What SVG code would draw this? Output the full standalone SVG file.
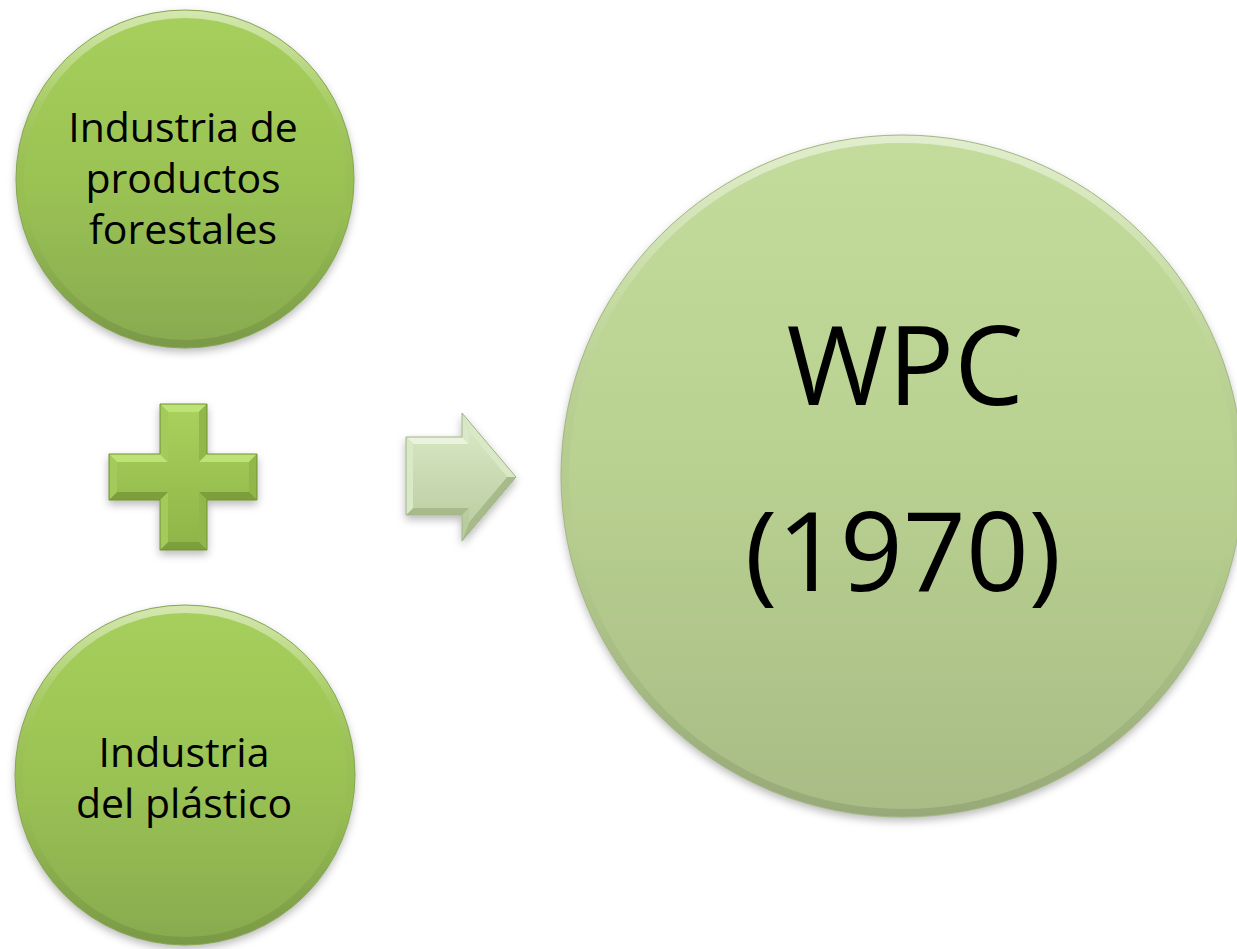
<svg xmlns="http://www.w3.org/2000/svg" width="1237" height="949" viewBox="0 0 1237 949">
<defs>
  <linearGradient id="gSmall" x1="0" y1="0" x2="0" y2="1">
    <stop offset="0" stop-color="#a7cf5d"/>
    <stop offset="0.5" stop-color="#9bc353"/>
    <stop offset="1" stop-color="#88aa50"/>
  </linearGradient>
  <linearGradient id="gBig" x1="0" y1="0" x2="0" y2="1">
    <stop offset="0" stop-color="#c3dc9b"/>
    <stop offset="0.5" stop-color="#b8d090"/>
    <stop offset="1" stop-color="#a8bc85"/>
  </linearGradient>
  <linearGradient id="gRim" x1="0" y1="0" x2="0" y2="1">
    <stop offset="0" stop-color="#ffffff" stop-opacity="0.5"/>
    <stop offset="0.25" stop-color="#ffffff" stop-opacity="0.1"/>
    <stop offset="0.6" stop-color="#000000" stop-opacity="0"/>
    <stop offset="1" stop-color="#000000" stop-opacity="0.1"/>
  </linearGradient>
  <linearGradient id="gPlus" x1="0" y1="0" x2="0" y2="1">
    <stop offset="0" stop-color="#a8d05c"/>
    <stop offset="1" stop-color="#8fb648"/>
  </linearGradient>
  <linearGradient id="gArrow" x1="0" y1="0" x2="0" y2="1">
    <stop offset="0" stop-color="#d6e6c2"/>
    <stop offset="1" stop-color="#bdcfa4"/>
  </linearGradient>
  <filter id="shadow" x="-20%" y="-20%" width="140%" height="145%">
    <feDropShadow dx="0" dy="4" stdDeviation="4" flood-color="#000" flood-opacity="0.28"/>
  </filter>
</defs>
<style>
  .lbl { font-family: "Open Sans", "Liberation Sans", sans-serif; fill: #000; text-anchor: middle; }
  .small { font-size: 41px; }
  .big { font-size: 110px; }
  .rim { fill: none; stroke: url(#gRim); stroke-width: 8; }
  .edge { fill: none; stroke-width: 1; }
  .pu { fill: #bde274; }
  .pl { fill: #a3ca5a; }
  .pr { fill: #8fb748; }
  .pd { fill: #7c9f3a; }
  .au { fill: #eaf3dd; }
  .al { fill: #d9e8c6; }
  .ar { fill: #b9cc9e; }
  .ad { fill: #a7bb8a; }
</style>

<g id="node-forestales">
  <circle cx="185" cy="179" r="169" fill="url(#gSmall)" filter="url(#shadow)"/>
  <circle class="rim" cx="185" cy="179" r="165"/>
  <circle class="edge" cx="185" cy="179" r="169" stroke="#86a652"/>
  <text class="lbl small" x="183" y="142">Industria de</text>
  <text class="lbl small" x="183" y="193">productos</text>
  <text class="lbl small" x="183" y="244">forestales</text>
</g>

<g id="node-plastico">
  <circle cx="185" cy="775" r="170" fill="url(#gSmall)" filter="url(#shadow)"/>
  <circle class="rim" cx="185" cy="775" r="166"/>
  <circle class="edge" cx="185" cy="775" r="170" stroke="#86a652"/>
  <text class="lbl small" x="184" y="767">Industria</text>
  <text class="lbl small" x="184" y="818">del plástico</text>
</g>

<g id="node-wpc">
  <circle cx="902" cy="476" r="341" fill="url(#gBig)" filter="url(#shadow)"/>
  <circle class="rim" cx="902" cy="476" r="337"/>
  <circle class="edge" cx="902" cy="476" r="341" stroke="#a3b682"/>
  <text class="lbl big" x="905" y="405">WPC</text>
  <text class="lbl big" x="903" y="591">(1970)</text>
</g>

<g id="node-plus" filter="url(#shadow)">
  <polygon points="160,404 207,404 207,454 257,454 257,500 207,500 207,550 160,550 160,500 109,500 109,454 160,454" fill="#8fb748"/>
  <polygon class="pu" points="160,404 207,404 199,412 168,412"/>
  <polygon class="pr" points="207,404 207,454 199,462 199,412"/>
  <polygon class="pu" points="207,454 257,454 249,462 199,462"/>
  <polygon class="pr" points="257,454 257,500 249,492 249,462"/>
  <polygon class="pd" points="257,500 207,500 199,492 249,492"/>
  <polygon class="pr" points="207,500 207,550 199,542 199,492"/>
  <polygon class="pd" points="207,550 160,550 168,542 199,542"/>
  <polygon class="pl" points="160,550 160,500 168,492 168,542"/>
  <polygon class="pd" points="160,500 109,500 117,492 168,492"/>
  <polygon class="pl" points="109,500 109,454 117,462 117,492"/>
  <polygon class="pu" points="109,454 160,454 168,462 117,462"/>
  <polygon class="pl" points="160,454 160,404 168,412 168,462"/>
  <polygon points="168,412 199,412 199,462 249,462 249,492 199,492 199,542 168,542 168,492 117,492 117,462 168,462" fill="url(#gPlus)"/>
  <polygon points="160,404 207,404 207,454 257,454 257,500 207,500 207,550 160,550 160,500 109,500 109,454 160,454" fill="none" stroke="#6e8f35" stroke-width="1"/>
</g>

<g id="connectors">
  <g id="arrow" filter="url(#shadow)">
    <polygon points="406,437 462,437 462,413 516,477 462,541 462,515 406,515" fill="#c4d6ab"/>
    <polygon class="au" points="406,437 462,437 469,444 413,444"/>
    <polygon class="al" points="462,437 462,413 469,432 469,444"/>
    <polygon class="al" points="462,413 516,477 507,477 469,432"/>
    <polygon class="ad" points="516,477 462,541 469,522 507,477"/>
    <polygon class="ar" points="462,541 462,515 469,508 469,522"/>
    <polygon class="ad" points="462,515 406,515 413,508 469,508"/>
    <polygon class="al" points="406,515 406,437 413,444 413,508"/>
    <polygon points="413,444 469,444 469,432 507,477 469,522 469,508 413,508" fill="url(#gArrow)"/>
    <polygon points="406,437 462,437 462,413 516,477 462,541 462,515 406,515" fill="none" stroke="#9fb487" stroke-width="1"/>
  </g>
</g>
</svg>
